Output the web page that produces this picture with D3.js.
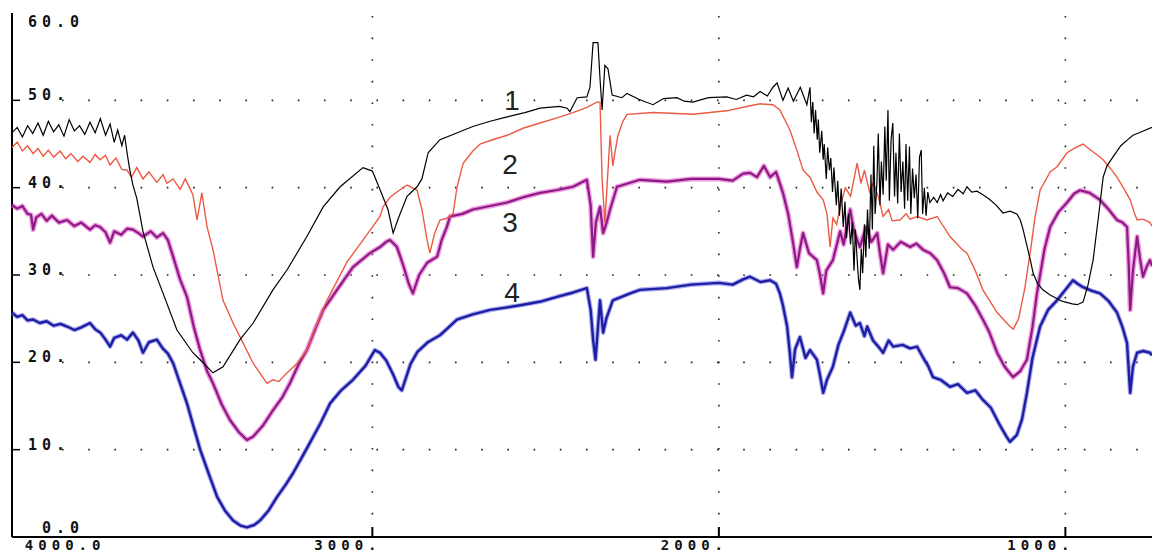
<!DOCTYPE html>
<html>
<head>
    <script src="https://d3js.org/d3.v7.min.js"></script>
    <title>IR spectra 1-4</title>
    <style>
        body { margin: 0; background: #fff; }
        svg { display: block; }
    </style>
</head>
<body>
<div id="chart"></div>
<script>
    // wavenumber (cm-1) / transmittance pairs
    const s1 = [[4040,46.3],[4025,46.9],[4010,45.8],[3995,47.1],[3980,46.2],[3965,47.4],[3950,46.0],[3935,47.6],[3920,46.4],[3905,47.2],[3890,45.9],[3875,47.8],[3860,46.5],[3845,47.1],[3830,46.1],[3815,47.5],[3800,46.3],[3785,47.9],[3770,46.0],[3757,47.3],[3745,45.2],[3735,46.6],[3723,44.8],[3715,46.0],[3708,44.0],[3700,42.0],[3691,40.3],[3680,38.8],[3662,35.0],[3633,30.9],[3604,27.9],[3564,23.7],[3518,21.1],[3497,20.3],[3460,18.8],[3431,19.5],[3382,22.6],[3344,24.5],[3287,28.3],[3246,30.6],[3189,34.4],[3142,37.8],[3093,40.1],[3027,42.3],[3000,41.9],[2978,39.8],[2955,37.5],[2940,34.8],[2925,36.5],[2900,39.0],[2871,40.1],[2857,41.0],[2839,44.0],[2805,45.5],[2760,46.2],[2710,47.0],[2660,47.6],[2611,48.1],[2560,48.6],[2516,49.1],[2460,49.3],[2438,49.1],[2430,48.7],[2409,50.3],[2381,50.4],[2372,51.5],[2363,56.6],[2349,56.6],[2343,52.5],[2337,48.9],[2329,54.0],[2320,53.6],[2308,50.6],[2280,50.3],[2265,50.8],[2230,50.1],[2190,49.5],[2160,50.2],[2121,50.3],[2100,49.9],[2075,49.8],[2030,50.3],[1977,50.4],[1950,50.1],[1920,50.6],[1900,50.4],[1881,51.0],[1860,50.5],[1844,51.5],[1832,52.0],[1815,50.0],[1800,51.4],[1785,49.9],[1765,51.5],[1746,49.5],[1737,51.5],[1733,47.5],[1729,49.8],[1725,46.2],[1721,48.9],[1716,45.5],[1713,47.8],[1709,44.0],[1703,46.5],[1699,43.2],[1696,45.0],[1690,41.0],[1686,44.6],[1681,42.0],[1677,43.4],[1672,39.5],[1668,42.3],[1661,38.0],[1657,40.8],[1652,36.8],[1647,39.9],[1641,35.5],[1636,38.4],[1632,34.2],[1626,37.0],[1620,33.5],[1615,36.0],[1610,30.5],[1606,35.2],[1601,31.8],[1597,29.5],[1593,28.3],[1589,33.0],[1585,30.2],[1580,35.8],[1576,32.0],[1571,37.5],[1566,33.0],[1561,41.5],[1557,35.2],[1553,44.8],[1549,37.0],[1544,40.5],[1540,46.2],[1535,38.0],[1531,43.0],[1526,39.2],[1521,47.0],[1517,40.8],[1512,48.9],[1508,38.5],[1503,45.5],[1498,47.4],[1493,39.0],[1489,44.0],[1484,38.2],[1479,46.2],[1474,39.5],[1469,43.0],[1464,37.6],[1460,45.0],[1455,38.5],[1450,44.7],[1446,37.0],[1441,42.2],[1436,38.8],[1431,41.5],[1426,36.5],[1421,43.5],[1416,44.3],[1412,37.0],[1407,40.0],[1402,36.8],[1397,39.5],[1391,38.3],[1380,38.9],[1370,38.3],[1360,39.2],[1353,38.5],[1340,39.4],[1325,39.0],[1310,39.8],[1295,39.3],[1284,40.1],[1270,39.5],[1255,39.6],[1238,39.2],[1220,38.7],[1200,38.0],[1180,37.1],[1160,37.3],[1140,37.0],[1130,36.3],[1122,35.2],[1110,33.2],[1100,31.5],[1093,30.2],[1080,29.0],[1065,28.3],[1044,27.7],[1010,27.0],[980,26.7],[966,26.6],[949,26.9],[935,28.8],[920,31.7],[905,36.5],[891,41.2],[880,42.5],[863,43.5],[840,44.8],[820,45.5],[805,46.0],[780,46.4],[750,46.9]];

    const s2 = [[4040,44.6],[4025,45.2],[4010,44.2],[3995,44.8],[3979,43.9],[3965,44.5],[3950,43.6],[3935,44.3],[3920,43.5],[3901,44.2],[3885,43.3],[3870,43.9],[3850,43.0],[3835,43.6],[3815,42.9],[3800,43.8],[3786,43.2],[3770,43.7],[3757,42.6],[3740,43.4],[3723,42.1],[3708,42.0],[3695,41.2],[3680,42.3],[3662,41.0],[3645,41.8],[3622,40.6],[3604,41.5],[3593,40.5],[3575,41.0],[3555,39.8],[3540,41.0],[3530,40.2],[3518,39.2],[3506,36.3],[3492,39.4],[3477,35.5],[3460,32.9],[3431,27.1],[3402,24.5],[3373,22.2],[3344,19.9],[3320,18.5],[3304,17.6],[3287,18.0],[3270,17.8],[3246,18.8],[3217,19.9],[3189,21.4],[3171,23.4],[3131,27.1],[3073,31.5],[3027,34.0],[2978,36.7],[2969,37.8],[2949,38.9],[2929,39.5],[2900,40.3],[2871,39.7],[2857,37.5],[2842,34.0],[2834,32.5],[2820,34.8],[2805,36.3],[2785,36.5],[2767,37.0],[2756,40.0],[2738,42.8],[2710,44.2],[2689,45.0],[2660,45.4],[2611,46.0],[2565,46.8],[2516,47.4],[2467,48.0],[2421,48.6],[2381,49.2],[2352,49.8],[2343,49.8],[2337,41.0],[2329,36.0],[2323,40.0],[2314,46.0],[2306,42.5],[2300,44.0],[2291,46.0],[2277,47.6],[2265,48.4],[2190,48.6],[2121,48.5],[2075,48.4],[1977,48.8],[1920,49.3],[1881,49.6],[1844,49.5],[1824,48.9],[1795,46.6],[1775,44.3],[1757,42.0],[1737,41.2],[1717,39.5],[1699,38.6],[1688,37.0],[1679,33.2],[1671,36.5],[1660,35.8],[1650,37.8],[1635,40.0],[1620,39.0],[1601,42.8],[1590,40.5],[1580,42.0],[1565,39.5],[1555,40.5],[1540,39.0],[1526,36.7],[1510,37.5],[1500,36.2],[1477,36.3],[1460,37.0],[1448,36.4],[1428,36.7],[1400,36.3],[1370,36.7],[1333,34.4],[1300,33.0],[1284,32.5],[1260,30.5],[1238,28.3],[1197,25.7],[1160,24.1],[1150,23.8],[1135,25.0],[1117,28.5],[1100,33.0],[1088,36.5],[1073,39.7],[1044,41.8],[1024,42.4],[995,44.0],[975,44.5],[949,45.0],[930,44.4],[910,43.8],[891,43.2],[870,42.2],[851,41.2],[830,39.8],[813,38.6],[800,37.0],[793,36.3],[775,36.4],[756,36.0],[750,35.6]];

    const s3 = [[4040,38.0],[4025,37.6],[4010,37.9],[3995,37.0],[3985,36.9],[3979,35.2],[3970,36.6],[3955,37.0],[3940,36.2],[3925,36.8],[3905,36.0],[3881,36.3],[3860,35.6],[3840,36.0],[3815,35.2],[3800,35.7],[3786,35.5],[3770,34.9],[3757,33.7],[3745,35.0],[3725,34.6],[3708,35.3],[3691,35.2],[3675,34.8],[3662,34.4],[3640,35.0],[3622,34.3],[3604,34.8],[3590,34.0],[3575,32.1],[3555,29.5],[3535,27.5],[3515,24.0],[3497,21.4],[3477,19.0],[3460,17.6],[3435,15.2],[3411,13.4],[3385,12.0],[3362,11.1],[3344,11.5],[3315,12.8],[3287,14.5],[3260,16.0],[3238,17.6],[3210,20.0],[3189,21.4],[3165,23.8],[3142,26.0],[3102,28.3],[3056,30.9],[3007,32.5],[2978,33.2],[2960,33.8],[2949,34.0],[2929,33.2],[2910,31.0],[2895,29.0],[2883,27.9],[2865,30.0],[2842,31.4],[2813,32.1],[2800,34.0],[2785,35.5],[2776,36.7],[2740,37.0],[2710,37.5],[2660,37.9],[2611,38.3],[2565,38.9],[2516,39.4],[2470,39.7],[2421,40.1],[2381,40.9],[2370,38.0],[2363,32.1],[2355,36.0],[2343,37.8],[2334,34.8],[2324,36.0],[2314,37.5],[2294,40.1],[2228,40.9],[2150,40.7],[2080,41.0],[2000,41.0],[1960,40.8],[1930,41.6],[1910,41.7],[1890,41.2],[1870,42.5],[1852,41.2],[1835,41.8],[1815,39.4],[1800,37.0],[1786,33.7],[1775,30.9],[1766,33.0],[1757,34.8],[1740,32.5],[1717,31.7],[1708,30.0],[1699,27.9],[1690,30.5],[1671,31.7],[1650,35.0],[1640,33.5],[1621,37.5],[1610,35.0],[1593,33.2],[1575,35.5],[1560,33.8],[1543,34.8],[1535,32.5],[1526,30.2],[1512,33.5],[1497,32.9],[1475,33.8],[1448,33.2],[1430,33.6],[1411,32.9],[1390,32.5],[1370,31.7],[1350,30.2],[1333,28.6],[1310,28.5],[1284,27.9],[1260,26.5],[1238,24.9],[1220,23.5],[1197,21.1],[1175,19.5],[1151,18.3],[1130,19.0],[1111,20.3],[1095,24.0],[1082,27.9],[1060,33.0],[1044,35.5],[1020,37.2],[995,38.3],[975,39.3],[958,39.7],[930,39.4],[900,38.6],[875,37.5],[851,36.3],[835,36.0],[822,35.5],[817,31.0],[813,26.0],[805,30.5],[793,34.4],[785,32.0],[776,29.8],[765,31.0],[756,31.7],[750,31.0]];

    const s4 = [[4040,25.7],[4025,25.2],[4010,25.4],[3995,24.8],[3979,24.9],[3960,24.5],[3940,24.7],[3920,24.2],[3900,24.4],[3881,24.1],[3860,23.7],[3840,24.0],[3815,24.5],[3800,23.8],[3785,23.4],[3770,22.6],[3757,21.8],[3745,22.8],[3725,23.1],[3708,22.6],[3691,23.4],[3675,22.5],[3662,21.1],[3645,22.3],[3622,22.6],[3605,21.6],[3590,21.0],[3575,19.9],[3555,17.6],[3535,15.3],[3515,12.5],[3497,10.0],[3470,7.0],[3448,4.6],[3425,3.0],[3402,1.9],[3380,1.3],[3362,1.1],[3340,1.4],[3324,1.9],[3300,3.0],[3275,4.6],[3250,6.0],[3229,7.3],[3205,9.0],[3180,10.8],[3150,13.0],[3122,15.3],[3090,16.8],[3056,18.0],[3020,19.6],[2993,21.4],[2978,21.1],[2960,20.2],[2940,18.6],[2925,17.2],[2915,16.8],[2905,18.0],[2890,19.8],[2870,21.2],[2840,22.3],[2805,23.1],[2780,24.0],[2756,24.9],[2710,25.5],[2660,26.0],[2610,26.3],[2565,26.6],[2510,27.0],[2467,27.5],[2420,28.0],[2381,28.5],[2370,26.0],[2363,22.6],[2356,20.3],[2349,24.0],[2343,27.1],[2334,23.4],[2325,25.0],[2306,27.1],[2256,27.9],[2228,28.3],[2150,28.5],[2080,28.9],[2000,29.1],[1960,28.9],[1930,29.5],[1910,29.8],[1880,29.2],[1852,29.4],[1835,29.0],[1824,27.9],[1815,26.5],[1803,24.1],[1795,21.0],[1789,18.3],[1780,21.5],[1766,22.9],[1750,20.5],[1737,21.4],[1717,20.3],[1708,18.5],[1699,16.5],[1688,18.0],[1671,19.5],[1655,22.0],[1640,23.5],[1621,25.7],[1605,24.2],[1593,24.5],[1580,23.0],[1572,24.1],[1555,22.5],[1540,21.8],[1526,21.1],[1510,22.5],[1497,21.8],[1470,22.0],[1448,21.6],[1428,21.8],[1410,20.5],[1395,19.5],[1382,18.3],[1360,18.0],[1333,17.2],[1310,17.5],[1284,16.5],[1260,16.8],[1238,15.7],[1215,14.8],[1189,12.8],[1170,11.5],[1160,10.9],[1140,11.7],[1125,13.5],[1111,16.5],[1095,20.5],[1073,24.1],[1050,26.0],[1024,27.1],[1000,28.3],[978,29.4],[965,29.0],[949,28.6],[925,28.2],[900,27.9],[875,27.0],[851,25.7],[835,24.0],[822,22.2],[817,19.0],[813,16.5],[805,19.5],[793,21.1],[775,21.3],[756,21.1],[750,20.8]];

    const seriesNames = ["1", "2", "3", "4"];
    const xTicks = [4000, 3000, 2000, 1000];
    const xTickLabels = ["4000.0", "3000.", "2000.", "1000."];
    const yTicks = [0, 10, 20, 30, 40, 50, 60];
    const yTickLabels = ["0.0", "10.", "20.", "30.", "40.", "50.", "60.0"];

    // where the curve numbers sit (wavenumber, value at baseline)
    const nameSpots = [[2597, 48.9], [2603, 41.6], [2603, 34.9], [2597, 26.9]];

    const width = 1152, height = 554;
    const x = d3.scaleLinear().domain([4040, 750]).range([12, 1152]);
    const y = d3.scaleLinear().domain([0, 60]).range([537, 13]);

    const svg = d3.select("#chart").append("svg")
        .attr("width", width)
        .attr("height", height);

    // dotted grid
    svg.append("g").selectAll("line")
        .data(yTicks.filter(t => t > 0 && t < 60))
        .join("line")
        .attr("x1", 62).attr("x2", width)
        .attr("y1", d => y(d)).attr("y2", d => y(d))
        .attr("stroke", "#222").attr("stroke-width", 1.6)
        .attr("stroke-dasharray", "1.6 24.6");

    svg.append("g").selectAll("line")
        .data(xTicks.slice(1))
        .join("line")
        .attr("x1", d => x(d)).attr("x2", d => x(d))
        .attr("y1", 16).attr("y2", 530)
        .attr("stroke", "#222").attr("stroke-width", 1.6)
        .attr("stroke-dasharray", "1.6 20");

    // axes
    svg.append("line")
        .attr("x1", x(4040)).attr("x2", x(4040))
        .attr("y1", 13).attr("y2", y(0))
        .attr("stroke", "#000").attr("stroke-width", 2);
    svg.append("line")
        .attr("x1", x(4040)).attr("x2", width)
        .attr("y1", y(0)).attr("y2", y(0))
        .attr("stroke", "#000").attr("stroke-width", 2);

    svg.append("g").selectAll("line")
        .data(yTicks.filter(t => t > 0 && t < 60))
        .join("line")
        .attr("x1", x(4040)).attr("x2", x(4040) + 8)
        .attr("y1", d => y(d)).attr("y2", d => y(d))
        .attr("stroke", "#000").attr("stroke-width", 1.5);

    svg.append("g").selectAll("line")
        .data(xTicks.slice(1))
        .join("line")
        .attr("x1", d => x(d)).attr("x2", d => x(d))
        .attr("y1", y(0) - 10).attr("y2", y(0))
        .attr("stroke", "#000").attr("stroke-width", 2);

    const tickFont = g => g
        .attr("font-family", "DejaVu Sans Mono")
        .attr("font-weight", "bold")
        .attr("font-size", 15)
        .attr("letter-spacing", 5)
        .attr("fill", "#111");

    svg.append("g").call(tickFont).selectAll("text")
        .data(yTicks)
        .join("text")
        .attr("x", d => d === 0 ? 42 : 28)
        .attr("y", d => d === 60 ? y(d) + 14 : d === 0 ? y(d) - 4 : y(d))
        .text((d, i) => yTickLabels[i]);

    svg.append("g").call(tickFont).attr("font-size", 14).selectAll("text")
        .data(xTicks)
        .join("text")
        .attr("x", (d, i) => i === 0 ? x(d) - 1 : x(d) - 58)
        .attr("y", 550)
        .text((d, i) => xTickLabels[i]);

    // curves
    const line = d3.line().x(d => x(d[0])).y(d => y(d[1]));

    svg.append("path").datum(s4).attr("d", line)
        .attr("fill", "none").attr("stroke", "#6a6ae8").attr("stroke-opacity", 0.55)
        .attr("stroke-width", 4.6).attr("stroke-linejoin", "round");
    svg.append("path").datum(s4).attr("d", line)
        .attr("fill", "none").attr("stroke", "#1e1ea2").attr("stroke-width", 2.4)
        .attr("stroke-linejoin", "round");

    svg.append("path").datum(s3).attr("d", line)
        .attr("fill", "none").attr("stroke", "#e45ccc").attr("stroke-opacity", 0.6)
        .attr("stroke-width", 5).attr("stroke-linejoin", "round");
    svg.append("path").datum(s3).attr("d", line)
        .attr("fill", "none").attr("stroke", "#8c1a84").attr("stroke-width", 2.2)
        .attr("stroke-linejoin", "round");

    svg.append("path").datum(s2).attr("d", line)
        .attr("fill", "none").attr("stroke", "#ec5a44").attr("stroke-width", 1.4);

    svg.append("path").datum(s1).attr("d", line)
        .attr("fill", "none").attr("stroke", "#000").attr("stroke-width", 1.2);

    // curve numbers
    svg.append("g").selectAll("text")
        .data(seriesNames)
        .join("text")
        .attr("x", (d, i) => x(nameSpots[i][0]))
        .attr("y", (d, i) => y(nameSpots[i][1]))
        .attr("text-anchor", "middle")
        .attr("font-family", "Liberation Sans, Arial")
        .attr("font-size", 28)
        .attr("fill", "#222")
        .text(d => d);
</script>
</body>
</html>
